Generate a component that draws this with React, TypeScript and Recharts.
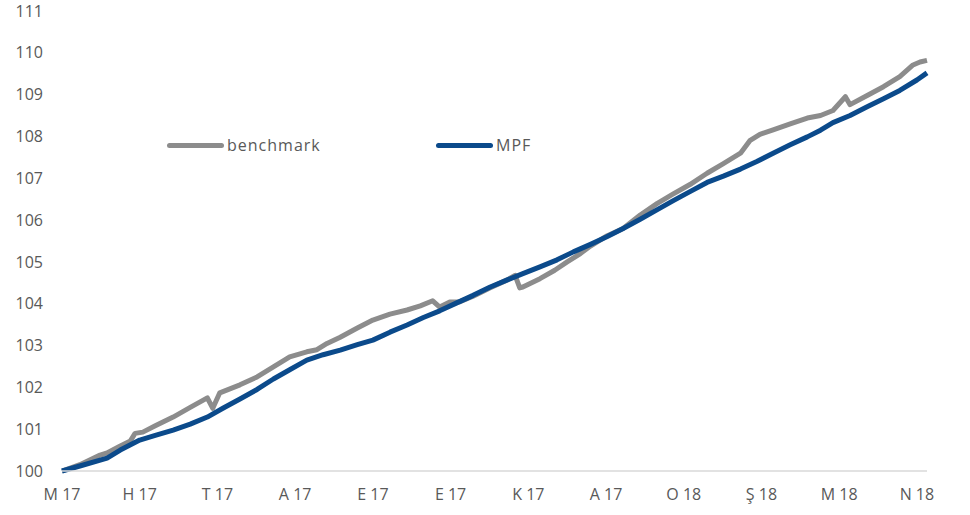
import { LineChart, Line, XAxis, YAxis } from 'recharts';

// month labels under the axis (Turkish month initials)
const monthLabels = ['M 17', 'H 17', 'T 17', 'A 17', 'E 17', 'E 17', 'K 17', 'A 17', 'O 18', 'Ş 18', 'M 18', 'N 18'];
const monthTicks = [0, 1, 2, 3, 4, 5, 6, 7, 8, 9, 10, 11];
const yTicks = [100, 101, 102, 103, 104, 105, 106, 107, 108, 109, 110, 111];

// benchmark, position in months from start
const benchX = [
  0, 0.23, 0.49, 0.58, 0.75, 0.88, 0.94, 1.04, 1.2, 1.43, 1.65, 1.87, 1.94, 2.03, 2.29, 2.51,
  2.72, 2.93, 3.15, 3.28, 3.41, 3.58, 3.8, 4.0, 4.22, 4.44, 4.61, 4.77, 4.86, 4.99, 5.12, 5.29,
  5.51, 5.73, 5.83, 5.89, 5.93, 6.15, 6.34, 6.5, 6.67, 6.8, 7.01, 7.22, 7.44, 7.66, 7.86, 8.08,
  8.3, 8.51, 8.73, 8.85, 8.98, 9.15, 9.37, 9.59, 9.76, 9.92, 10.08, 10.14, 10.36, 10.57, 10.78,
  10.95, 11.04, 11.13,
];
const benchY = [
  100.0, 100.15, 100.38, 100.43, 100.6, 100.72, 100.9, 100.93, 101.08, 101.29, 101.52, 101.75,
  101.5, 101.87, 102.06, 102.25, 102.49, 102.73, 102.85, 102.9, 103.05, 103.2, 103.42, 103.61,
  103.75, 103.85, 103.95, 104.07, 103.92, 104.04, 104.05, 104.18, 104.38, 104.57, 104.68, 104.38,
  104.4, 104.6, 104.8, 105.0, 105.2, 105.38, 105.62, 105.8, 106.12, 106.4, 106.62, 106.85,
  107.12, 107.35, 107.6, 107.9, 108.05, 108.16, 108.3, 108.44, 108.5, 108.62, 108.95, 108.76,
  108.98, 109.19, 109.43, 109.71, 109.78, 109.82,
];

// MPF
const mpfX = [
  0, 0.23, 0.58, 0.75, 1.0, 1.2, 1.43, 1.65, 1.87, 2.07, 2.29, 2.51, 2.72, 2.93, 3.15, 3.36,
  3.58, 3.8, 4.0, 4.22, 4.44, 4.65, 4.86, 5.08, 5.29, 5.51, 5.73, 5.93, 6.15, 6.37, 6.58, 6.8,
  7.01, 7.22, 7.44, 7.66, 7.86, 8.08, 8.3, 8.51, 8.73, 8.94, 9.15, 9.37, 9.59, 9.76, 9.92,
  10.14, 10.36, 10.57, 10.78, 11.0, 11.13,
];
const mpfY = [
  100.0, 100.12, 100.31, 100.5, 100.74, 100.85, 100.98, 101.12, 101.29, 101.5, 101.72, 101.95,
  102.2, 102.42, 102.65, 102.78, 102.89, 103.02, 103.13, 103.32, 103.49, 103.67, 103.83, 104.02,
  104.2, 104.4, 104.57, 104.72, 104.88, 105.05, 105.24, 105.42, 105.6, 105.8, 106.02, 106.25,
  106.46, 106.68, 106.9, 107.05, 107.22, 107.4, 107.6, 107.8, 107.99, 108.15, 108.33, 108.5,
  108.71, 108.9, 109.1, 109.35, 109.52,
];

const benchData = benchX.map((x, i) => ({ x, v: benchY[i] }));
const mpfData = mpfX.map((x, i) => ({ x, v: mpfY[i] }));

const GREY = '#8c8c8c';
const BLUE = '#0b4a8b';
const TEXT = '#595959';
const FONT = '"Open Sans", sans-serif';

const legendItems = [
  { name: 'benchmark', color: GREY, left: 167 },
  { name: 'MPF', color: BLUE, left: 436 },
];

export default function App() {
  return (
    <div style={{ position: 'absolute', left: 0, top: 0, width: 970, height: 515, background: '#fff' }}>
      <LineChart
        width={970}
        height={515}
        margin={{ top: 11, right: 43, left: 2, bottom: 14 }}
        style={{ fontFamily: FONT }}
      >
        <XAxis
          dataKey="x"
          type="number"
          domain={[0, 11.13]}
          ticks={monthTicks}
          interval={0}
          tickFormatter={(v: number) => monthLabels[v]}
          tickLine={false}
          axisLine={{ stroke: '#d9d9d9', strokeWidth: 1.5 }}
          tickMargin={12}
          height={30}
          tick={{ fill: TEXT, fontSize: 16 }}
        />
        <YAxis
          type="number"
          domain={[100, 111]}
          ticks={yTicks}
          interval={0}
          axisLine={false}
          tickLine={false}
          width={60}
          tickMargin={13}
          tick={{ fill: TEXT, fontSize: 16 }}
        />
        <Line
          data={benchData}
          dataKey="v"
          name="benchmark"
          type="linear"
          stroke={GREY}
          strokeWidth={5}
          strokeLinejoin="round"
          dot={false}
          activeDot={false}
          isAnimationActive={false}
        />
        <Line
          data={mpfData}
          dataKey="v"
          name="MPF"
          type="linear"
          stroke={BLUE}
          strokeWidth={5}
          strokeLinejoin="round"
          dot={false}
          activeDot={false}
          isAnimationActive={false}
        />
      </LineChart>
      {legendItems.map((it) => (
        <div
          key={it.name}
          style={{ position: 'absolute', left: it.left, top: 133, display: 'flex', alignItems: 'center', height: 24 }}
        >
          <span style={{ display: 'inline-block', width: 57, height: 5, borderRadius: 3, background: it.color }} />
          <span style={{ marginLeft: 3, fontSize: 16, letterSpacing: 1, color: TEXT, fontFamily: FONT }}>{it.name}</span>
        </div>
      ))}
    </div>
  );
}
